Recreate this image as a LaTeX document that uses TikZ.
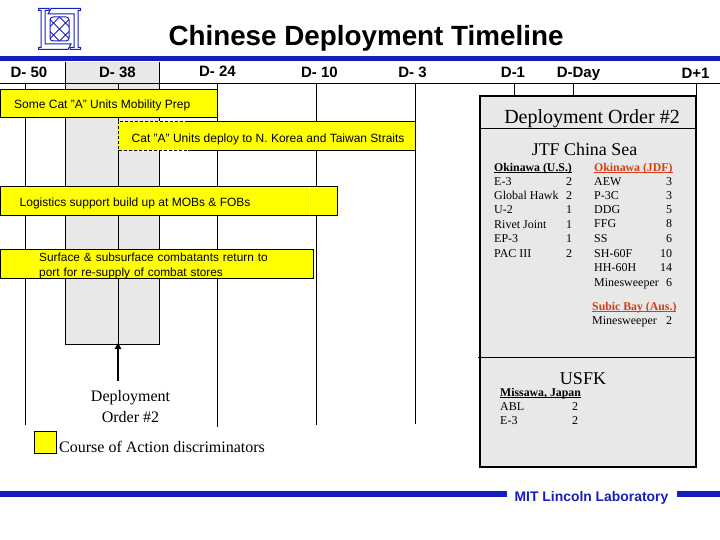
\documentclass[tikz,border=0pt]{standalone}
\usetikzlibrary{arrows.meta}
\usepackage{fontspec}
\setmainfont{Liberation Serif}
\setsansfont{Liberation Sans}
\definecolor{bandblue}{RGB}{22,30,190}
\definecolor{panelgray}{RGB}{232,232,232}
\definecolor{barfill}{RGB}{255,255,0}
\definecolor{redhead}{RGB}{214,60,20}
\tikzset{
  tick/.style={black,line width=1pt},
  barbox/.style={draw=black,fill=barfill,line width=1pt},
  barlabel/.style={anchor=west,font=\sffamily\fontsize{12}{15}\selectfont,align=left,inner sep=0pt},
  daylabel/.style={anchor=base,font=\sffamily\bfseries\fontsize{15}{17}\selectfont,inner sep=0pt},
  head/.style={anchor=base west,font=\bfseries\fontsize{11.8}{13}\selectfont,inner sep=0pt},
  item/.style={anchor=base west,font=\fontsize{12}{13}\selectfont,inner sep=0pt},
  logoline/.style={draw=bandblue,line width=1pt}
}
\newcommand{\ulh}[1]{\setbox0\hbox{#1}\rlap{\rule[-1.6pt]{\wd0}{0.8pt}}\box0}
\begin{document}
\begin{tikzpicture}[x=1pt,y=-1pt]
\useasboundingbox (0,0) rectangle (720,540);
% band
\fill[panelgray] (65.5,62) rectangle (159,344);
\draw[tick] (65.5,62) -- (65.5,344) -- (159,344) -- (159,62);
% rules
\fill[bandblue] (0,56) rectangle (720,61.5);
\draw[tick] (0,84) -- (720,84);
% verticals
\foreach \x/\y in {25/425,118/344,217/427,316/425,415/424}{\draw[tick] (\x,84) -- (\x,\y);}
\draw[tick] (514,84) -- (514,96);
\draw[tick] (573,84) -- (573,96);
\draw[tick] (696,84) -- (696,96);
% logo
\draw[logoline] (38.5,8.5) -- (49,8.5) -- (49,10.5) -- (45,10.5) -- (45,44) -- (71,44) -- (68,49.5) -- (38.5,49.5) -- (38.5,47.5) -- (41,47.5) -- (41,10.5) -- (38.5,10.5) -- cycle;
\draw[logoline] (80.5,49.5) -- (70,49.5) -- (70,47.5) -- (74,47.5) -- (74,14) -- (48,14) -- (51,8.5) -- (80.5,8.5) -- (80.5,10.5) -- (78,10.5) -- (78,47.5) -- (80.5,47.5) -- cycle;
\draw[logoline,rounded corners=3pt] (50,17) rectangle (69,41);
\begin{scope}
\clip[rounded corners=3pt] (50,17) rectangle (69,41);
\foreach \d in {-24,-12,0,12,24}{
  \draw[logoline] (59.5+\d-12,17) -- (59.5+\d+12,41);
  \draw[logoline] (59.5+\d+12,17) -- (59.5+\d-12,41);
}
\end{scope}
% title
\node[font=\sffamily\bfseries\fontsize{27.8}{32}\selectfont,inner sep=0pt,anchor=base] (title) at (366,45.5) {Chinese Deployment Timeline};
% day labels
\node[daylabel] (d50) at (29,78) {D- 50};
\node[daylabel] (d38) at (117.5,78) {D- 38};
\node[daylabel] (d24) at (217.5,76.5) {D- 24};
\node[daylabel] (d10) at (319.5,78) {D- 10};
\node[daylabel] (d3) at (412.5,78) {D- 3};
\node[daylabel] (d1) at (513,77.5) {D-1};
\node[daylabel] (dday) at (578.5,77.5) {D-Day};
\node[daylabel] (dp1) at (695.5,79) {D+1};
% bars
\draw[barbox] (0,89.5) rectangle (217,118);
\draw[white,line width=0.4pt] (39.5,90) -- (39.5,117.5);
\node[barlabel] (b1) at (14,105) {Some Cat "A" Units Mobility Prep};
\fill[barfill] (118,121.5) rectangle (415,150.5);
\draw[tick] (188,121.5) -- (415,121.5) -- (415,150.5) -- (188,150.5);
\draw[tick,dash pattern=on 3pt off 2pt] (188,121.5) -- (118,121.5) -- (118,150.5) -- (188,150.5);
\node[barlabel] (b2) at (131.5,139) {Cat "A" Units deploy to N. Korea and Taiwan Straits};
\draw[barbox] (0,186.5) rectangle (337,215.5);
\draw[white,line width=0.4pt] (309.5,187) -- (309.5,215);
\node[barlabel] (b3) at (19.5,203) {Logistics support build up at MOBs \& FOBs};
\draw[barbox] (0,249.5) rectangle (313.5,278);
\node[barlabel,font=\sffamily\fontsize{11.85}{15}\selectfont,text width=260pt] (b4) at (39,266) {Surface \& subsurface combatants return to\\port for re-supply of combat stores};
% arrow
\coordinate (arrowtail) at (118,381);
\coordinate (arrowhead) at (118,343);
\draw[-{Triangle[width=6.5pt,length=6pt]},line width=2pt] (arrowtail) -- (arrowhead);
\node[font=\fontsize{16}{21}\selectfont,align=center,inner sep=0pt] (dep) at (130.5,406.5) {Deployment\\Order \#2};
% legend
\node[draw=black,line width=1pt,fill=barfill,minimum size=22pt,inner sep=0pt] (legend) at (45.5,442.5) {};
\node[anchor=west,font=\fontsize{16}{18}\selectfont,inner sep=0pt] (legtxt) at (59,447) {Course of Action discriminators};
% panel
\draw[fill=panelgray,line width=2pt] (480,96.5) rectangle (696,467);
\draw[line width=1.5pt] (480,128.5) -- (696,128.5);
\draw[line width=1pt] (478,357) -- (696,357);
\node[font=\fontsize{20}{22}\selectfont,inner sep=0pt,anchor=base] (dotitle) at (592,123.5) {Deployment Order \#2};
\node[font=\fontsize{17.9}{20}\selectfont,inner sep=0pt,anchor=base] (jtf) at (584.5,156) {JTF China Sea};
\node[font=\fontsize{18}{20}\selectfont,inner sep=0pt,anchor=base] (usfk) at (583,384) {USFK};
% left column
\node[head] at (494,171.5) {\ulh{Okinawa (U.S.)}};
\foreach \n/\t/\v/\y in {a/E-3/2/186,b/Global Hawk/2/200,c/U-2/1/214,d/Rivet Joint/1/229,e/EP-3/1/243,f/PAC III/2/258}{
  \node[item] (l\n) at (494,\y) {\t};
  \node[item] (lv\n) at (566,\y) {\v};
}
% right column
\node[head,text=redhead] at (594,171.5) {\ulh{Okinawa (JDF)}};
\node[item] at (594,186) {AEW}; \node[item] at (666,186) {3};
\node[item] at (594,200) {P-3C}; \node[item] at (666,200) {3};
\node[item] at (594,214) {DDG}; \node[item] at (666,214) {5};
\node[item] at (594,228) {FFG}; \node[item] at (666,228) {8};
\node[item] at (594,243) {SS}; \node[item] at (666,243) {6};
\node[item] at (594,257) {SH-60F}; \node[item] at (660,257) {10};
\node[item] at (594,271) {HH-60H}; \node[item] at (660,271) {14};
\node[item] at (594,286) {Minesweeper}; \node[item] at (666,286) {6};
\node[head,text=redhead] at (592,310) {\ulh{Subic Bay (Aus.)}};
\node[item] at (592,324) {Minesweeper}; \node[item] at (666,324) {2};
% USFK
\node[head] at (500,396) {\ulh{Missawa, Japan}};
\node[item] at (500,410) {ABL}; \node[item] at (572,410) {2};
\node[item] at (500,424) {E-3}; \node[item] at (572,424) {2};
% footer
\fill[bandblue] (0,491) rectangle (507,496.5);
\fill[bandblue] (676.5,491) rectangle (720,496.5);
\node[font=\sffamily\bfseries\fontsize{13.9}{16}\selectfont,text=bandblue,inner sep=0pt,anchor=base] (mit) at (591.5,501) {MIT Lincoln Laboratory};
\end{tikzpicture}
\end{document}
